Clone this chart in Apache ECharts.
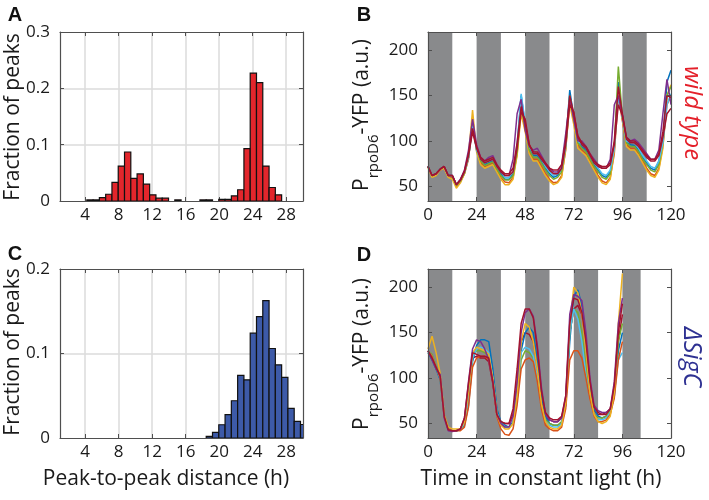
<!DOCTYPE html>
<html>
<head>
<meta charset="utf-8">
<script src="https://cdn.jsdelivr.net/npm/echarts@6/dist/echarts.min.js"></script>
<style>
html, body { margin: 0; background: #fff; }
#main { width: 709px; height: 500px; }
</style>
</head>
<body>
<div id="main"></div>
<script>
// ---- histograms (peak-to-peak distance, bins of 0.75 h) ----
var binWidth = 0.75;
var binCentersA = [4.575, 5.325, 6.075, 6.825, 7.575, 8.325, 9.075, 9.825, 10.575, 11.325, 12.075, 12.825, 13.575,
    15.075, 18.075, 18.825, 20.325, 21.075, 21.825, 22.575, 23.325, 24.075, 24.825, 25.575, 26.325, 27.075];
var fracA = [0.002, 0.002, 0.006, 0.012, 0.033, 0.062, 0.087, 0.040, 0.048, 0.030, 0.011, 0.005, 0.005,
    0.002, 0.002, 0.002, 0.003, 0.003, 0.009, 0.020, 0.093, 0.227, 0.210, 0.062, 0.024, 0.011];
var binCentersC = [18.825, 19.575, 20.325, 21.075, 21.825, 22.575, 23.325, 24.075, 24.825, 25.575, 26.325,
    27.075, 27.825, 28.575, 29.325, 30.075];
var fracC = [0.002, 0.0067, 0.0157, 0.0276, 0.0441, 0.074, 0.0689, 0.124, 0.1437, 0.1626, 0.1059,
    0.0866, 0.0717, 0.035, 0.0197, 0.016];
var distTicks = [4, 8, 12, 16, 20, 24, 28];
var fracTicksA = [0, 0.1, 0.2, 0.3];
var fracTicksC = [0, 0.1, 0.2];
var fracGridA = [0.1, 0.2];
var fracGridC = [0.1];

// ---- time courses (h) ----
var timeTicks = [0, 24, 48, 72, 96, 120];
var yfpTicks = [50, 100, 150, 200];
var darkB = [[0, 12], [24, 36], [48, 60], [72, 84], [96, 108]];
var darkD = [[0, 12], [24, 36], [48, 60], [72, 84], [96, 105]];

var timeB = [0, 2, 4, 6, 8, 10, 12, 14, 16, 18, 20,
    22, 24, 26, 28, 30, 32, 34, 36, 38, 40,
    42, 44, 46, 48, 50, 52, 54, 56, 58,
    60, 62, 64, 66, 68, 70, 72, 74, 76, 78, 80,
    82, 84, 86, 88, 90, 92, 94, 96, 98, 100,
    102, 104, 106, 108, 110, 112, 114, 116, 118, 120];
// wild type traces
var wtBlue = [72, 62, 64, 69, 72, 62, 62, 52, 57, 66, 82,
    118, 92, 80, 74, 76, 78, 70, 64, 58, 58,
    64, 92, 150, 118, 92, 84, 84, 78, 70,
    64, 60, 62, 70, 96, 156, 126, 100, 94, 90, 82,
    74, 68, 62, 60, 66, 92, 165, 128, 100, 96,
    95, 90, 82, 76, 70, 68, 78, 100, 165, 178];
var wtOrange = [72, 61, 63, 68, 71, 61, 60, 50, 55, 64, 80,
    120, 90, 76, 72, 74, 76, 68, 60, 55, 54,
    60, 86, 136, 112, 88, 80, 80, 72, 64,
    58, 54, 55, 62, 90, 146, 122, 96, 90, 86, 78,
    70, 62, 56, 54, 60, 86, 150, 122, 96, 92,
    92, 86, 78, 70, 64, 62, 70, 95, 140, 150];
var wtYellow = [71, 60, 62, 68, 70, 60, 58, 48, 54, 64, 84,
    134, 88, 74, 70, 72, 74, 66, 58, 52, 52,
    58, 84, 130, 110, 86, 78, 78, 70, 62,
    56, 52, 54, 60, 92, 140, 118, 92, 88, 84, 76,
    68, 60, 54, 52, 58, 90, 158, 124, 94, 90,
    90, 84, 76, 68, 62, 60, 68, 92, 150, 162];
var wtGreen = [72, 62, 64, 69, 72, 62, 61, 51, 56, 65, 82,
    120, 90, 78, 73, 75, 77, 69, 62, 57, 57,
    62, 88, 140, 114, 90, 82, 82, 76, 68,
    62, 58, 60, 66, 94, 150, 124, 98, 92, 88, 80,
    72, 66, 60, 58, 64, 94, 182, 126, 98, 94,
    94, 88, 80, 74, 68, 66, 74, 98, 150, 160];
var wtCyan = [72, 62, 64, 69, 72, 62, 62, 52, 57, 66, 82,
    116, 90, 80, 76, 78, 80, 72, 66, 60, 60,
    66, 96, 152, 120, 94, 86, 86, 80, 72,
    66, 62, 64, 70, 94, 148, 126, 100, 96, 92, 84,
    76, 70, 64, 62, 68, 92, 150, 126, 100, 98,
    98, 92, 84, 78, 72, 70, 78, 98, 140, 152];
var wtPurple = [72, 62, 64, 69, 72, 62, 62, 52, 58, 68, 90,
    124, 96, 82, 78, 82, 84, 74, 66, 62, 62,
    80, 130, 146, 112, 94, 90, 92, 84, 76,
    70, 66, 66, 74, 108, 146, 124, 100, 100, 94, 86,
    80, 74, 70, 70, 80, 140, 150, 128, 104, 100,
    102, 98, 92, 86, 80, 80, 90, 130, 168, 140];
var wtRed = [72, 62, 64, 69, 72, 62, 62, 52, 57, 67, 86,
    114, 94, 82, 78, 80, 82, 74, 68, 64, 64,
    70, 98, 138, 120, 96, 88, 88, 82, 76,
    70, 68, 68, 74, 100, 150, 130, 106, 98, 94, 86,
    78, 74, 72, 72, 76, 100, 160, 130, 104, 100,
    100, 96, 90, 84, 80, 80, 86, 110, 150, 148];
var wtRed2 = [72, 62, 64, 69, 72, 62, 62, 52, 57, 66, 84,
    110, 92, 80, 76, 78, 80, 72, 66, 62, 62,
    66, 92, 132, 124, 96, 86, 86, 80, 74,
    68, 64, 64, 70, 96, 140, 132, 104, 96, 92, 84,
    76, 72, 70, 70, 74, 96, 140, 128, 102, 98,
    98, 94, 88, 82, 78, 78, 84, 104, 130, 136];

var timeD = [0, 2, 4, 6, 8, 10, 12, 14, 16, 18, 20,
    22, 24, 26, 28, 30, 32, 34, 36, 38, 40,
    42, 44, 46, 48, 50, 52, 54, 56, 58,
    60, 62, 64, 66, 68, 70, 72, 74, 76, 78, 80,
    82, 84, 86, 88, 90, 92, 94, 96];
// sigC deletion traces
var sigBlue = [128, 120, 110, 98, 60, 45, 42, 42, 43, 48, 70,
    118, 136, 142, 142, 140, 110, 66, 52, 48, 46,
    52, 80, 130, 150, 156, 150, 120, 80, 58,
    50, 48, 48, 50, 70, 140, 190, 197, 180, 140, 90,
    66, 58, 56, 58, 62, 80, 130, 150];
var sigOrange = [130, 124, 112, 100, 58, 44, 42, 42, 42, 46, 68,
    112, 122, 124, 124, 120, 96, 58, 44, 38, 37,
    44, 70, 110, 120, 122, 118, 96, 66, 48,
    44, 42, 42, 46, 66, 120, 130, 130, 122, 100, 76,
    58, 52, 52, 54, 60, 78, 120, 140];
var sigYellow = [132, 146, 128, 105, 60, 46, 44, 44, 44, 52, 86,
    128, 134, 132, 130, 126, 100, 60, 48, 44, 44,
    50, 80, 140, 160, 156, 140, 110, 72, 52,
    46, 44, 44, 48, 72, 160, 200, 194, 170, 130, 84,
    60, 52, 50, 52, 58, 84, 160, 215];
var sigGreen = [130, 126, 114, 100, 58, 44, 42, 42, 43, 50, 80,
    124, 130, 130, 128, 124, 100, 62, 50, 46, 46,
    50, 76, 120, 130, 128, 122, 100, 70, 54,
    50, 48, 48, 52, 72, 150, 176, 172, 150, 112, 78,
    60, 56, 56, 58, 64, 86, 140, 160];
var sigCyan = [130, 124, 112, 100, 58, 44, 42, 42, 43, 50, 76,
    122, 132, 134, 132, 128, 100, 62, 50, 46, 45,
    50, 80, 128, 134, 132, 124, 100, 68, 52,
    48, 46, 46, 50, 72, 150, 176, 165, 140, 104, 76,
    58, 54, 54, 56, 62, 84, 120, 128];
var sigRed2 = [130, 122, 112, 102, 58, 43, 42, 42, 44, 54, 90,
    122, 124, 122, 122, 118, 94, 60, 52, 50, 50,
    60, 92, 140, 150, 148, 140, 114, 78, 58,
    54, 52, 52, 56, 76, 150, 176, 180, 170, 140, 92,
    64, 60, 60, 62, 66, 88, 140, 170];
var sigPurple = [130, 120, 110, 104, 56, 42, 41, 42, 44, 56, 96,
    132, 142, 140, 132, 120, 96, 60, 50, 46, 46,
    58, 96, 150, 172, 176, 168, 136, 90, 60,
    54, 52, 52, 56, 80, 170, 192, 190, 185, 150, 100,
    70, 64, 62, 62, 66, 96, 160, 188];
var sigRed = [130, 122, 112, 102, 58, 43, 42, 42, 44, 56, 94,
    128, 126, 124, 124, 122, 96, 60, 52, 50, 50,
    66, 110, 160, 176, 176, 166, 132, 86, 62,
    56, 54, 54, 58, 80, 160, 188, 186, 172, 140, 96,
    68, 62, 60, 60, 66, 92, 150, 182];

var mBlue = '#0072BD', mOrange = '#D95319', mYellow = '#EDB120', mPurple = '#7E2F8E',
    mGreen = '#77AC30', mCyan = '#4DBEEE', mRed = '#A2142F';

var axisColor = '#4f4f4f';
var textColor = '#1a1a1a';
var gridColor = '#dcdcdc';
var uiFont = 'Open Sans';
var plotW = 243, plotH = 169;

var chart = echarts.init(document.getElementById('main'));

// bottom/top pair for one grid; top one only draws the box edge and inner ticks
function xAxes(grid, min, max, ticks, z) {
    return [{
        type: 'value', gridIndex: grid, min: min, max: max, position: 'bottom', z: z,
        axisLine: {onZero: false, lineStyle: {color: axisColor, width: 1.2}},
        axisTick: {inside: true, length: 4, customValues: ticks, lineStyle: {color: axisColor}},
        axisLabel: {customValues: ticks, margin: 6, color: textColor, fontFamily: uiFont, fontSize: 17},
        splitLine: {show: false}
    }, {
        type: 'value', gridIndex: grid, min: min, max: max, position: 'top', z: z,
        axisLine: {onZero: false, lineStyle: {color: axisColor, width: 1.2}},
        axisTick: {inside: true, length: 4, customValues: ticks, lineStyle: {color: axisColor}},
        axisLabel: {show: false},
        splitLine: {show: false}
    }];
}
function yAxes(grid, min, max, ticks, z) {
    return [{
        type: 'value', gridIndex: grid, min: min, max: max, position: 'left', z: z,
        axisLine: {show: true, onZero: false, lineStyle: {color: axisColor, width: 1.2}},
        axisTick: {show: true, inside: true, length: 4, customValues: ticks, lineStyle: {color: axisColor}},
        axisLabel: {customValues: ticks, margin: 10, color: textColor, fontFamily: uiFont, fontSize: 17},
        splitLine: {show: false}
    }, {
        type: 'value', gridIndex: grid, min: min, max: max, position: 'right', z: z,
        axisLine: {show: true, onZero: false, lineStyle: {color: axisColor, width: 1.2}},
        axisTick: {show: true, inside: true, length: 4, customValues: ticks, lineStyle: {color: axisColor}},
        axisLabel: {show: false},
        splitLine: {show: false}
    }];
}
// light grid lines: an extra unlabeled axis whose inner ticks span the whole plot
function gridAxis(grid, pos, min, max, ticks, len) {
    return {
        type: 'value', gridIndex: grid, min: min, max: max, position: pos, z: 0,
        axisLine: {show: false},
        axisTick: {show: true, inside: true, length: len, customValues: ticks,
            lineStyle: {color: gridColor, width: 1.5}},
        axisLabel: {show: false},
        splitLine: {show: false}
    };
}

function histSeries(grid, centers, fracs, fill) {
    return {
        type: 'custom', xAxisIndex: grid * 2, yAxisIndex: grid * 2, clip: true, z: 3, silent: true,
        data: centers.map(function (c, i) { return [c, fracs[i]]; }),
        renderItem: function (params, api) {
            var p0 = api.coord([api.value(0) - binWidth / 2, api.value(1)]);
            var p1 = api.coord([api.value(0) + binWidth / 2, 0]);
            return {
                type: 'rect',
                shape: {x: p0[0], y: p0[1], width: p1[0] - p0[0], height: p1[1] - p0[1]},
                style: {fill: fill, stroke: '#111', lineWidth: 1.2}
            };
        }
    };
}

function bandSeries(grid, periods) {
    return {
        type: 'custom', xAxisIndex: grid * 2, yAxisIndex: grid * 2, z: 1, silent: true,
        data: periods,
        renderItem: function (params, api) {
            var a = api.coord([api.value(0), 100]);
            var b = api.coord([api.value(1), 100]);
            var cs = params.coordSys;
            return {
                type: 'rect',
                shape: {x: a[0], y: cs.y, width: b[0] - a[0], height: cs.height},
                style: {fill: '#898a8c'}
            };
        }
    };
}

function lineSeries(grid, times, values, color) {
    return {
        type: 'line', xAxisIndex: grid * 2, yAxisIndex: grid * 2, z: 3, silent: true,
        data: times.map(function (t, i) { return [t, values[i]]; }),
        symbol: 'none', lineStyle: {color: color, width: 1.5}, itemStyle: {color: color}
    };
}

var series = [
    histSeries(0, binCentersA, fracA, '#E3262C'),
    histSeries(2, binCentersC, fracC, '#3D5AA8'),
    bandSeries(1, darkB),
    bandSeries(3, darkD),
    lineSeries(1, timeB, wtBlue, mBlue),
    lineSeries(1, timeB, wtOrange, mOrange),
    lineSeries(1, timeB, wtYellow, mYellow),
    lineSeries(1, timeB, wtGreen, mGreen),
    lineSeries(1, timeB, wtCyan, mCyan),
    lineSeries(1, timeB, wtPurple, mPurple),
    lineSeries(1, timeB, wtRed, mRed),
    lineSeries(1, timeB, wtRed2, mRed),
    lineSeries(3, timeD, sigRed2, mRed),
    lineSeries(3, timeD, sigBlue, mBlue),
    lineSeries(3, timeD, sigGreen, mGreen),
    lineSeries(3, timeD, sigCyan, mCyan),
    lineSeries(3, timeD, sigOrange, mOrange),
    lineSeries(3, timeD, sigYellow, mYellow),
    lineSeries(3, timeD, sigPurple, mPurple),
    lineSeries(3, timeD, sigRed, mRed)
];

function letter(txt, x, y) {
    return {type: 'text', x: x, y: y, style: {text: txt, fill: '#111', font: 'bold 20px "Liberation Sans"',
        textAlign: 'center', textVerticalAlign: 'middle'}};
}
function vtext(txt, x, y, rot, font, color) {
    return {type: 'text', x: x, y: y, rotation: rot, style: {text: txt, fill: color, font: font,
        textAlign: 'center', textVerticalAlign: 'middle'}};
}
function yfpLabel(x, y) {
    return {type: 'text', x: x, y: y, rotation: Math.PI / 2, style: {
        text: '{p|P}{s|rpoD6}{p|-YFP (a.u.)}', fill: textColor, textAlign: 'center', textVerticalAlign: 'middle',
        rich: {
            p: {fontFamily: uiFont, fontSize: 21, lineHeight: 28, verticalAlign: 'top', fill: textColor},
            s: {fontFamily: uiFont, fontSize: 15, lineHeight: 20, padding: [14, 0, 0, 0], verticalAlign: 'top', fill: textColor}
        }
    }};
}

var option = {
    animation: false,
    backgroundColor: '#fff',
    grid: [
        {left: 60, top: 32, width: plotW, height: plotH},
        {left: 428, top: 32, width: plotW, height: plotH},
        {left: 60, top: 269, width: plotW, height: plotH},
        {left: 428, top: 269, width: plotW, height: plotH}
    ],
    xAxis: [].concat(
        xAxes(0, 1, 30, distTicks, 1),
        xAxes(1, 0, 120, timeTicks, 5),
        xAxes(2, 1, 30, distTicks, 1),
        xAxes(3, 0, 120, timeTicks, 5),
        [gridAxis(0, 'bottom', 1, 30, distTicks, plotH), gridAxis(2, 'bottom', 1, 30, distTicks, plotH)]
    ),
    yAxis: [].concat(
        yAxes(0, 0, 0.3, fracTicksA, 1),
        yAxes(1, 34, 220, yfpTicks, 5),
        yAxes(2, 0, 0.2, fracTicksC, 1),
        yAxes(3, 34, 220, yfpTicks, 5),
        [gridAxis(0, 'left', 0, 0.3, fracGridA, plotW), gridAxis(2, 'left', 0, 0.2, fracGridC, plotW)]
    ),
    series: series,
    graphic: [
        letter('A', 15, 15),
        letter('B', 364, 15),
        letter('C', 15, 254),
        letter('D', 364, 255),
        vtext('Fraction of peaks', 13, 117, Math.PI / 2, '21px "Open Sans"', textColor),
        vtext('Fraction of peaks', 13, 352, Math.PI / 2, '21px "Open Sans"', textColor),
        yfpLabel(366, 115),
        yfpLabel(366, 354),
        vtext('Peak-to-peak distance (h)', 166, 479, 0, '21px "Open Sans"', textColor),
        vtext('Time in constant light (h)', 541, 479, 0, '21px "Open Sans"', textColor),
        vtext('wild type', 692, 113, -Math.PI / 2, 'italic 24px "Open Sans"', '#E4202A'),
        vtext('\u0394SigC', 691, 357, -Math.PI / 2, 'italic 25px "Open Sans"', '#2E3192')
    ]
};
chart.setOption(option);
</script>
</body>
</html>
